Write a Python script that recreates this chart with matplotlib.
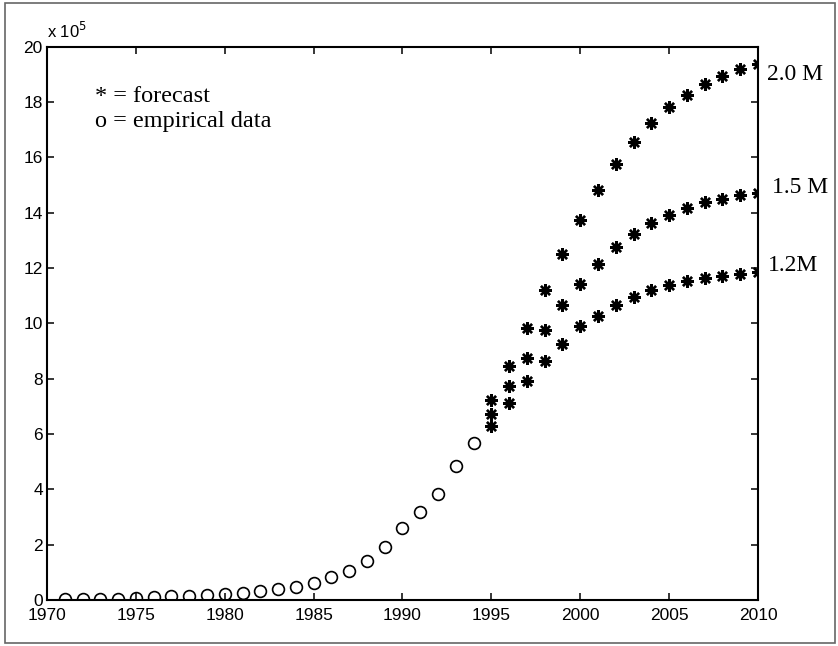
import matplotlib
matplotlib.use("Agg")
import matplotlib.pyplot as plt
from matplotlib.patches import Rectangle

# values in units of 10^5
emp_years = list(range(1971, 1995))
emp_vals = [0.02, 0.02, 0.03, 0.04, 0.08, 0.10, 0.13, 0.15, 0.18, 0.22, 0.26, 0.32,
            0.38, 0.46, 0.62, 0.83, 1.05, 1.40, 1.93, 2.61, 3.19, 3.83, 4.84, 5.69]

fc_years = list(range(1995, 2011))
fc_high = [7.22, 8.47, 9.82, 11.19, 12.49, 13.72, 14.80, 15.77, 16.56, 17.23,
           17.80, 18.26, 18.65, 18.92, 19.17, 19.38]
fc_mid = [6.71, 7.74, 8.76, 9.74, 10.65, 11.43, 12.15, 12.75, 13.24, 13.64,
          13.92, 14.15, 14.37, 14.49, 14.62, 14.72]
fc_low = [6.28, 7.12, 7.91, 8.63, 9.25, 9.89, 10.25, 10.65, 10.96, 11.19,
          11.40, 11.54, 11.65, 11.71, 11.79, 11.85]
fc_labels = ["2.0 M", "1.5 M", "1.2M"]
# label offsets from the last point (points)
label_offsets = [(6.5, -11.5), (10, 0), (7, 1)]

x_ticks = list(range(1970, 2011, 5))
y_ticks = list(range(0, 21, 2))

sans = ["Liberation Sans", "DejaVu Sans"]
serif = ["Liberation Serif", "DejaVu Serif"]

fig = plt.figure(figsize=(8.38, 6.46), dpi=100)
ax = fig.add_axes([0.0561, 0.0712, 0.8484, 0.8568])

ax.plot(emp_years, emp_vals, linestyle="none", marker="o", markersize=8.5,
        markerfacecolor="none", markeredgecolor="black", markeredgewidth=1.2)

for series in (fc_high, fc_mid, fc_low):
    ax.plot(fc_years, series, linestyle="none", marker=(8, 2, 0), markersize=9,
            color="black", markeredgewidth=1.7)

for series, lab, off in zip((fc_high, fc_mid, fc_low), fc_labels, label_offsets):
    ax.annotate(lab, xy=(fc_years[-1], series[-1]), xytext=off,
                textcoords="offset points", fontsize=17, family=serif,
                ha="left", va="baseline", annotation_clip=False)

ax.set_xlim(1970, 2010)
ax.set_ylim(0, 20)
ax.set_xticks(x_ticks)
ax.set_yticks(y_ticks)
ax.tick_params(direction="in", length=5, width=1.1, top=True, right=True,
               labelsize=12.5)
ax.tick_params(axis="x", pad=6)
ax.tick_params(axis="y", pad=3)
for lbl in ax.get_xticklabels() + ax.get_yticklabels():
    lbl.set_family(sans)
for sp in ax.spines.values():
    sp.set_linewidth(1.5)

ax.text(0.0, 1.0145, r"x 10$^5$", transform=ax.transAxes, fontsize=12,
        family=sans, ha="left", va="baseline")
ax.text(0.0675, 0.8997, "* = forecast", transform=ax.transAxes, fontsize=17.5,
        family=serif, ha="left", va="baseline")
ax.text(0.0675, 0.8546, "o = empirical data", transform=ax.transAxes, fontsize=17.5,
        family=serif, ha="left", va="baseline")

# scanned page frame
fig.patches.append(Rectangle((0.006, 0.004), 0.991, 0.992, transform=fig.transFigure,
                             fill=False, edgecolor="#666666", linewidth=1.2))

fig.savefig("out.png", dpi=100)
